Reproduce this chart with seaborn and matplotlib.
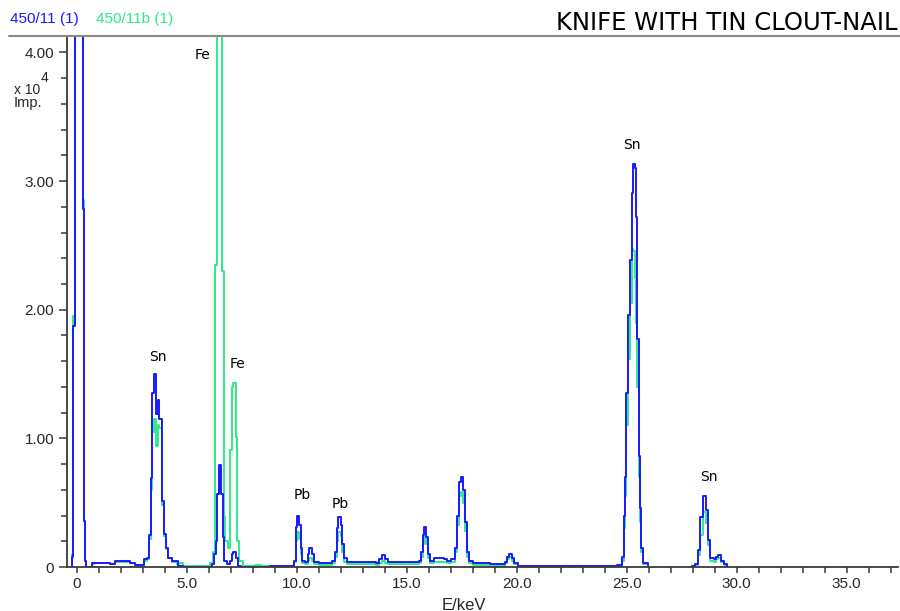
import numpy as np
import pandas as pd
import matplotlib
matplotlib.use("Agg")
import matplotlib.pyplot as plt
import seaborn as sns
from matplotlib.lines import Line2D
from matplotlib.ticker import FixedLocator, FixedFormatter, MultipleLocator

nan = np.nan

# ---- data (counts in units of 1e4 impulses), step edges in keV ----
energy_blue = [-0.22, -0.20, -0.155, -0.09, 0.27, 0.33, 0.39, 0.45, 0.68, 0.80, 1.52, 1.75, 2.44, 2.67,
               3.06, 3.21, 3.30, 3.36, 3.42, 3.50, 3.60, 3.68, 3.76, 3.86, 3.96, 4.05, 4.15, 4.35, 4.60,
               4.85, 6.15, 6.25, 6.32, 6.36, 6.45, 6.58, 6.64, 6.72, 6.85, 6.97, 7.05, 7.12, 7.24, 7.32,
               7.45, 8.80, 9.20, 9.90, 9.96, 10.02, 10.12, 10.18, 10.26, 10.40, 10.50, 10.58, 10.70,
               10.78, 11.00, 11.60, 11.75, 11.83, 11.90, 12.02, 12.08, 12.15, 12.30, 13.60, 13.75,
               13.88, 14.02, 14.15, 15.55, 15.65, 15.72, 15.78, 15.90, 15.97, 16.05, 16.25, 16.70,
               16.85, 17.00, 17.20, 17.30, 17.38, 17.45, 17.58, 17.64, 17.72, 17.85, 18.00, 18.80,
               19.45, 19.58, 19.66, 19.78, 19.88, 20.05, 20.40, 24.55, 24.77, 24.88, 24.94, 24.98,
               25.05, 25.15, 25.23, 25.29, 25.39, 25.44, 25.48, 25.54, 25.60, 25.66, 25.75, 25.98,
               26.36, 27.95, 28.10, 28.22, 28.33, 28.48, 28.62, 28.70, 28.80, 28.95, 29.05, 29.15,
               29.28, 29.40, 29.55]
counts_blue = [0.0, 0.08, 1.87, 6.0, 2.78, 0.36, 0.05, 0.0, 0.03, 0.035, 0.02, 0.044, 0.03, 0.013,
               0.06, 0.07, 0.25, 0.69, 1.35, 1.50, 1.19, 1.30, 1.15, 0.51, 0.26, 0.15, 0.07, 0.05, 0.01,
               0.0, 0.02, 0.10, 0.20, 0.57, 0.79, 0.57, 0.23, 0.05, 0.02, 0.05, 0.10, 0.12, 0.07, 0.01,
               0.0, 0.01, 0.005, 0.05, 0.31, 0.40, 0.33, 0.15, 0.05, 0.04, 0.10, 0.15, 0.10,
               0.04, 0.035, 0.05, 0.12, 0.30, 0.39, 0.33, 0.18, 0.07, 0.04, 0.035, 0.06,
               0.09, 0.06, 0.04, 0.05, 0.12, 0.25, 0.31, 0.23, 0.10, 0.05, 0.07, 0.065,
               0.05, 0.06, 0.15, 0.40, 0.66, 0.70, 0.60, 0.35, 0.12, 0.05, 0.03, 0.025,
               0.04, 0.08, 0.10, 0.07, 0.03, 0.01, 0.008, 0.015, 0.08, 0.40, 0.70, 1.35,
               1.96, 2.39, 2.91, 3.13, 3.10, 2.72, 1.77, 0.86, 0.46, 0.15, 0.03, 0.005,
               nan, 0.005, 0.02, 0.13, 0.39, 0.55, 0.44, 0.21, 0.07, 0.06, 0.08, 0.095,
               0.05, 0.02, 0.0]

energy_green = [-0.22, -0.20, -0.155, -0.09, 0.27, 0.33, 0.39, 0.45, 0.68, 0.80, 1.52, 1.75, 2.44, 2.67,
                3.06, 3.21, 3.30, 3.36, 3.42, 3.50, 3.60, 3.68, 3.76, 3.86, 3.96, 4.05, 4.15, 4.35, 4.55,
                4.65, 4.85, 5.00, 6.05, 6.21, 6.30, 6.39, 6.62, 6.69, 6.76, 6.88, 6.96, 7.04, 7.11, 7.24,
                7.31, 7.40, 7.55, 8.10, 8.40, 9.20, 9.90, 9.96, 10.02, 10.12, 10.18, 10.26, 10.40, 10.50,
                10.58, 10.70, 10.78, 11.00, 11.60, 11.75, 11.83, 11.90, 12.02, 12.08, 12.15, 12.30, 13.60,
                13.75, 13.88, 14.02, 14.15, 15.55, 15.65, 15.72, 15.78, 15.90, 15.97, 16.05, 16.25,
                16.70, 16.85, 17.00, 17.20, 17.30, 17.38, 17.45, 17.58, 17.64, 17.72, 17.85, 18.00,
                18.80, 19.45, 19.58, 19.66, 19.78, 19.88, 20.05, 20.40, 24.55, 24.77, 24.88, 24.94,
                24.98, 25.05, 25.15, 25.23, 25.29, 25.39, 25.44, 25.48, 25.54, 25.60, 25.66, 25.75,
                25.98, 26.36, 27.95, 28.10, 28.22, 28.33, 28.48, 28.62, 28.70, 28.80, 28.95, 29.05,
                29.15, 29.28, 29.40, 29.55]
counts_green = [0.0, 0.10, 1.95, 6.0, 2.85, 0.36, 0.05, 0.0, 0.025, 0.03, 0.02, 0.04, 0.03, 0.013,
                0.05, 0.06, 0.22, 0.60, 1.05, 1.15, 0.94, 1.10, 1.08, 0.48, 0.24, 0.14, 0.07, 0.04, 0.02,
                0.035, 0.01, 0.006, 0.03, 0.12, 2.35, 6.0, 2.30, 0.40, 0.20, 0.15, 0.91, 1.40, 1.43, 1.01,
                0.20, 0.05, 0.01, 0.015, 0.005, 0.005, 0.04, 0.20, 0.27, 0.22, 0.10, 0.03, 0.02, 0.05,
                0.07, 0.05, 0.02, 0.015, 0.03, 0.08, 0.20, 0.27, 0.24, 0.12, 0.04, 0.02, 0.015,
                0.03, 0.05, 0.03, 0.02, 0.03, 0.08, 0.18, 0.23, 0.18, 0.07, 0.03, 0.04,
                0.04, 0.03, 0.04, 0.12, 0.33, 0.55, 0.58, 0.50, 0.28, 0.08, 0.03, 0.015,
                0.01, 0.03, 0.06, 0.08, 0.05, 0.02, 0.005, 0.0, 0.01, 0.05, 0.30, 0.55,
                1.10, 1.62, 2.05, 2.47, 2.46, 2.25, 1.90, 1.40, 0.70, 0.35, 0.12, 0.02,
                0.005, nan, 0.005, 0.015, 0.09, 0.25, 0.43, 0.34, 0.17, 0.05, 0.04, 0.06,
                0.07, 0.04, 0.015, 0.0]

series_labels = ["450/11 (1)", "450/11b (1)"]
series_colors = ["#1a1aff", "#2eea8a"]

y_ticks = [0, 1, 2, 3, 4]
y_tick_labels = ["0", "1.00", "2.00", "3.00", "4.00"]
x_ticks = [0, 5, 10, 15, 20, 25, 30, 35]
x_tick_labels = ["0", "5.0", "10.0", "15.0", "20.0", "25.0", "30.0", "35.0"]

peak_labels = ["Fe", "Fe", "Sn", "Pb", "Pb", "Sn", "Sn"]
peak_label_x = [5.70, 7.33, 3.69, 10.24, 11.97, 25.24, 28.74]
peak_label_y = [3.98, 1.58, 1.63, 0.56, 0.49, 3.28, 0.70]

title = "KNIFE WITH TIN CLOUT-NAIL"

# ---- figure ----
sns.set_style("white")
plt.rcParams["font.family"] = ["DejaVu Sans"]

fig = plt.figure(figsize=(9, 6.11), dpi=100)
ax = fig.add_axes([0.0741, 0.0720, 0.9237, 0.8696])


def segments(e, c):
    df = pd.DataFrame({"E": e, "I": c})
    df["seg"] = df["I"].isna().cumsum()
    return df.dropna()


for e, c, col, z in [(energy_green, counts_green, series_colors[1], 2.0),
                     (energy_blue, counts_blue, series_colors[0], 2.1)]:
    df = segments(e, c)
    for _, sub in df.groupby("seg"):
        sns.lineplot(data=sub, x="E", y="I", ax=ax, color=col, lw=1.4,
                     drawstyle="steps-post", estimator=None, sort=False, zorder=z)

ax.set_xlim(-0.45, 37.33)
ax.set_ylim(0, 4.13)
ax.set_xlabel("")
ax.set_ylabel("")

for s in ["top", "right"]:
    ax.spines[s].set_visible(False)
for s in ["left", "bottom"]:
    ax.spines[s].set_color("#3a3a3a")
    ax.spines[s].set_linewidth(1.3)
    ax.spines[s].set_zorder(3)

ax.xaxis.set_major_locator(FixedLocator(x_ticks))
ax.xaxis.set_major_formatter(FixedFormatter(x_tick_labels))
ax.xaxis.set_minor_locator(MultipleLocator(1))
ax.yaxis.set_major_locator(FixedLocator(y_ticks))
ax.yaxis.set_major_formatter(FixedFormatter(y_tick_labels))
ax.yaxis.set_minor_locator(MultipleLocator(0.2))

ax.tick_params(axis="both", which="both", direction="out", color="#3a3a3a", width=1.1,
               bottom=True, left=True)
ax.tick_params(axis="x", which="major", length=4.5, pad=3)
ax.tick_params(axis="x", which="minor", length=4.5)
ax.tick_params(axis="y", which="major", length=6, pad=3)
ax.tick_params(axis="y", which="minor", length=4)
for lab in ax.get_xticklabels() + ax.get_yticklabels():
    lab.set_fontfamily("Liberation Sans")
    lab.set_fontsize(11)

for t, x, y in zip(peak_labels, peak_label_x, peak_label_y):
    ax.text(x, y, t, ha="center", va="center", fontsize=10, color="black")

# header line and texts
fig.add_artist(Line2D([9 / 900, 900 / 900], [1 - 35.7 / 611, 1 - 35.7 / 611],
                      color="#8c8a80", lw=1.5, transform=fig.transFigure))
fig.text(898 / 900, 1 - 23 / 611, title, ha="right", va="center", fontsize=17.5, color="black")
fig.text(10 / 900, 1 - 19 / 611, series_labels[0], ha="left", va="center", color=series_colors[0],
         family="Liberation Sans", fontsize=11)
fig.text(96 / 900, 1 - 19 / 611, series_labels[1], ha="left", va="center", color=series_colors[1],
         family="Liberation Sans", fontsize=11)

fig.text(14 / 900, 1 - 90 / 611, "x 10", ha="left", va="center", family="Liberation Sans", fontsize=10)
fig.text(41 / 900, 1 - 78 / 611, "4", ha="left", va="center", family="Liberation Sans", fontsize=10)
fig.text(14 / 900, 1 - 103 / 611, "Imp.", ha="left", va="center", family="Liberation Sans", fontsize=10.5)
fig.text(464 / 900, 1 - 605 / 611, "E/keV", ha="center", va="center", family="Liberation Sans",
         fontsize=12)

fig.savefig("out.png", dpi=100)
